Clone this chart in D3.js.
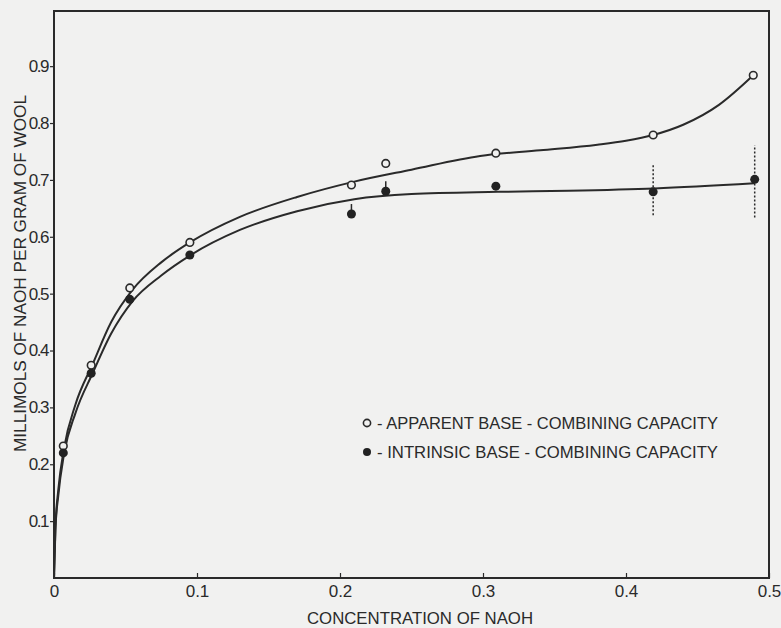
<!DOCTYPE html>
<html>
<head>
<meta charset="utf-8">
<script src="https://cdn.jsdelivr.net/npm/d3@7"></script>
<style>
  body { margin: 0; background: #f1f1f0; }
  svg text { font-family: "Liberation Sans", "DejaVu Sans", sans-serif; fill: #2a2a2a; }
</style>
</head>
<body>
<div class="chart"></div>
<script>
// measured points (x = concentration of NaOH, y = millimols per gram)
const apparentX = [0.0065, 0.026, 0.053, 0.095, 0.208, 0.232, 0.309, 0.419, 0.489];
const apparentY = [0.232, 0.374, 0.51, 0.59, 0.691, 0.729, 0.747, 0.779, 0.884];
const intrinsicX = [0.0065, 0.026, 0.053, 0.095, 0.208, 0.232, 0.309, 0.419, 0.49];
const intrinsicY = [0.22, 0.36, 0.49, 0.568, 0.64, 0.68, 0.689, 0.679, 0.701];

// smooth fitted curves
const apparentCurveX = [0, 0.001, 0.003, 0.007, 0.015, 0.027, 0.04, 0.055, 0.075, 0.095, 0.13, 0.17, 0.21, 0.25, 0.298, 0.34, 0.38, 0.40, 0.419, 0.44, 0.465, 0.489];
const apparentCurveY = [0, 0.09, 0.155, 0.228, 0.305, 0.376, 0.45, 0.507, 0.555, 0.59, 0.635, 0.67, 0.697, 0.718, 0.742, 0.752, 0.762, 0.769, 0.779, 0.797, 0.832, 0.884];
const intrinsicCurveX = [0, 0.001, 0.003, 0.007, 0.015, 0.027, 0.04, 0.055, 0.075, 0.095, 0.13, 0.17, 0.21, 0.25, 0.31, 0.36, 0.42, 0.49];
const intrinsicCurveY = [0, 0.085, 0.145, 0.218, 0.29, 0.36, 0.43, 0.487, 0.532, 0.567, 0.612, 0.645, 0.666, 0.675, 0.679, 0.681, 0.685, 0.694];

// dotted ranges on the last two intrinsic points
const rangeX = [0.419, 0.49];
const rangeLow = [0.638, 0.634];
const rangeHigh = [0.726, 0.761];
// short ticks above two intrinsic points
const tickX = [0.208, 0.232];
const tickY = [0.64, 0.68];

const xTicks = [0, 0.1, 0.2, 0.3, 0.4, 0.5];
const xTickLabels = ["0", "0.1", "0.2", "0.3", "0.4", "0.5"];
const yTicks = [0.1, 0.2, 0.3, 0.4, 0.5, 0.6, 0.7, 0.8, 0.9];
const yTickLabels = ["0.1", "0.2", "0.3", "0.4", "0.5", "0.6", "0.7", "0.8", "0.9"];

const legendLabels = ["- APPARENT BASE - COMBINING CAPACITY", "- INTRINSIC BASE - COMBINING CAPACITY"];

const width = 781, height = 628;
const ink = "#2a2a2a";

const svg = d3.select(".chart").append("svg")
  .attr("width", width)
  .attr("height", height);

const x = d3.scaleLinear().domain([0, 0.5]).range([54, 769]);
const y = d3.scaleLinear().domain([0, 0.997]).range([578, 11]);

// frame
svg.append("rect")
  .attr("x", x(0)).attr("y", y(0.997))
  .attr("width", x(0.5) - x(0)).attr("height", y(0) - y(0.997))
  .attr("fill", "none").attr("stroke", ink).attr("stroke-width", 2);

// x axis, ticks pointing inward
const xAxis = svg.append("g")
  .attr("transform", `translate(0,${y(0)})`)
  .call(d3.axisBottom(x).tickValues(xTicks).tickSizeInner(-5).tickSizeOuter(0)
    .tickFormat((d, i) => xTickLabels[i]));
xAxis.select(".domain").remove();
xAxis.selectAll("line").attr("stroke", ink).attr("stroke-width", 1.2);
xAxis.selectAll("text").attr("font-size", 17).attr("dy", "1.0em").attr("y", 2);

const yAxis = svg.append("g")
  .attr("transform", `translate(${x(0)},0)`)
  .call(d3.axisLeft(y).tickValues(yTicks).tickSizeInner(4).tickSizeOuter(0).tickPadding(2)
    .tickFormat((d, i) => yTickLabels[i]));
yAxis.select(".domain").remove();
yAxis.selectAll("line").attr("stroke", ink).attr("stroke-width", 1.2);
yAxis.selectAll("text").attr("font-size", 17).attr("letter-spacing", -1.5);

// axis titles
svg.append("text")
  .attr("x", 307).attr("y", 624)
  .attr("font-size", 17)
  .attr("textLength", 226).attr("lengthAdjust", "spacingAndGlyphs")
  .text("CONCENTRATION OF NAOH");

svg.append("text")
  .attr("transform", "translate(26,452) rotate(-90)")
  .attr("font-size", 16)
  .attr("textLength", 357).attr("lengthAdjust", "spacingAndGlyphs")
  .text("MILLIMOLS OF NAOH PER GRAM OF WOOL");

// curves
const line = d3.line().x(d => x(d[0])).y(d => y(d[1])).curve(d3.curveMonotoneX);

svg.append("path")
  .datum(d3.zip(apparentCurveX, apparentCurveY))
  .attr("d", line)
  .attr("fill", "none").attr("stroke", ink).attr("stroke-width", 2);

svg.append("path")
  .datum(d3.zip(intrinsicCurveX, intrinsicCurveY))
  .attr("d", line)
  .attr("fill", "none").attr("stroke", ink).attr("stroke-width", 2);

// dotted ranges
svg.selectAll(".range")
  .data(d3.range(rangeX.length))
  .enter().append("line")
  .attr("x1", i => x(rangeX[i])).attr("x2", i => x(rangeX[i]))
  .attr("y1", i => y(rangeLow[i])).attr("y2", i => y(rangeHigh[i]))
  .attr("stroke", ink).attr("stroke-width", 1.5)
  .attr("stroke-dasharray", "2,2");

svg.selectAll(".ptick")
  .data(d3.range(tickX.length))
  .enter().append("line")
  .attr("x1", i => x(tickX[i])).attr("x2", i => x(tickX[i]))
  .attr("y1", i => y(tickY[i]) - 10).attr("y2", i => y(tickY[i]))
  .attr("stroke", ink).attr("stroke-width", 1.5);

// points
svg.selectAll(".open")
  .data(d3.zip(apparentX, apparentY))
  .enter().append("circle")
  .attr("cx", d => x(d[0])).attr("cy", d => y(d[1]))
  .attr("r", 3.8)
  .attr("fill", "#f1f1f0").attr("stroke", ink).attr("stroke-width", 1.6);

svg.selectAll(".filled")
  .data(d3.zip(intrinsicX, intrinsicY))
  .enter().append("circle")
  .attr("cx", d => x(d[0])).attr("cy", d => y(d[1]))
  .attr("r", 4.5)
  .attr("fill", "#222");

// legend
const legend = svg.append("g");
legend.append("circle")
  .attr("cx", 367).attr("cy", 423).attr("r", 3.6)
  .attr("fill", "#f1f1f0").attr("stroke", ink).attr("stroke-width", 1.6);
legend.append("circle")
  .attr("cx", 367).attr("cy", 452).attr("r", 4)
  .attr("fill", "#222");
legend.selectAll(".lt")
  .data(legendLabels)
  .enter().append("text")
  .attr("x", 377).attr("y", (d, i) => 429 + i * 29)
  .attr("font-size", 17)
  .attr("textLength", 341).attr("lengthAdjust", "spacingAndGlyphs")
  .text(d => d);
</script>
</body>
</html>
